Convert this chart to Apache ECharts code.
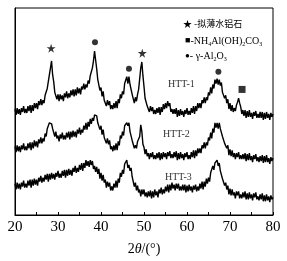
<!DOCTYPE html>
<html><head><meta charset="utf-8">
<script src="https://cdn.jsdelivr.net/npm/echarts@6/dist/echarts.min.js"></script>
<style>html,body{margin:0;padding:0;background:#fff}#c{width:287px;height:261px}</style>
</head><body><div id="c"></div>
<script>
// 2θ sampled every 0.25° from 20 to 80 (241 points per pattern)
var thetaStart = 20, thetaStep = 0.25;
var htt1 = [
108,102,109,103,108,102,109,105,111,104,108,104,111,106,112,104,
112,106,114,109,114,108,116,112,118,112,117,114,122,120,129,130,
143,150,157,143,136,125,127,118,123,116,123,118,122,116,124,120,
126,119,124,120,127,122,128,121,128,122,130,124,129,123,131,128,
134,128,133,130,137,134,142,141,150,157,167,158,149,138,137,127,
130,121,126,117,119,111,117,112,116,108,112,108,114,109,116,109,
118,114,123,119,126,123,134,134,141,134,141,133,133,123,122,114,
120,116,123,128,139,150,156,142,131,119,120,111,113,105,111,106,
110,103,107,103,109,104,110,102,110,105,113,108,114,109,116,111,
114,105,108,103,108,103,109,100,107,101,108,102,106,100,107,103,
109,102,106,102,109,104,111,103,111,106,114,109,114,109,117,114,
120,114,120,117,125,122,130,124,133,129,138,134,139,133,138,132,
135,125,126,119,122,114,118,108,114,106,112,105,109,106,112,115,
119,114,110,103,107,101,107,99,106,100,107,100,104,98,105,101,
106,99,103,99,105,99,105,97,104,98,105,99,103,97,104,100,
103];
var htt2 = [
70,64,71,65,70,64,71,67,73,66,70,66,73,68,74,66,
74,68,76,70,75,69,77,73,79,73,78,75,83,80,88,86,
94,94,93,88,88,80,85,78,81,75,82,78,84,77,81,77,
84,79,85,77,85,79,86,80,85,79,87,83,89,82,87,84,
91,87,94,87,95,90,98,93,99,96,102,100,101,94,96,87,
91,82,87,79,81,73,78,72,76,67,70,65,71,66,73,66,
75,71,81,78,85,81,91,89,94,91,94,85,86,76,77,68,
71,68,75,76,80,92,85,72,69,62,67,60,63,57,63,59,
64,57,61,57,63,58,64,56,63,57,64,59,63,57,64,60,
65,58,62,58,64,59,65,56,63,57,64,58,62,56,63,59,
64,57,61,57,64,59,66,58,66,60,68,63,68,63,71,68,
74,68,74,71,79,76,84,78,88,84,94,89,94,88,94,88,
90,80,80,73,75,68,71,61,67,60,66,59,63,57,63,59,
64,57,61,57,62,57,63,55,62,56,63,56,60,54,61,57,
62,55,59,54,60,55,61,53,60,54,61,54,58,52,59,55,
58];
var htt3 = [
32,26,33,27,32,26,33,29,35,28,32,28,35,30,36,28,
36,30,37,31,36,30,38,34,40,33,38,34,41,36,42,34,
42,36,43,37,42,36,43,39,45,38,42,38,45,40,46,38,
46,40,47,41,46,40,48,44,50,43,48,44,51,46,53,45,
53,48,56,50,55,49,56,51,55,47,50,44,49,42,47,37,
43,35,41,33,36,28,34,29,33,25,29,25,32,28,35,28,
37,33,43,39,46,42,52,50,56,48,51,45,48,39,41,29,
33,25,30,23,26,19,26,21,26,19,23,18,24,19,25,17,
24,18,26,20,24,18,26,22,28,21,26,22,29,24,31,23,
31,25,33,27,31,25,32,27,32,25,29,25,31,25,31,23,
30,24,31,25,29,23,30,26,31,24,29,25,32,27,34,26,
34,29,37,32,38,34,43,42,50,46,53,53,56,50,53,45,
47,37,38,30,33,26,30,21,27,20,26,20,23,17,24,20,
24,17,21,17,23,18,24,16,22,16,23,17,21,15,22,18,
23,16,19,15,21,16,22,14,20,14,21,15,19,13,20,16,
18];
// peak markers [2θ, height]
var starPeaks = [[28.4,170],[49.6,165]];
var circlePeaks = [[38.6,176],[46.5,149],[67.3,146]];
var squarePeaks = [[72.8,128]];
var xTicks = [20,30,40,50,60,70,80];

function toPairs(arr){ return arr.map(function(v,i){ return [thetaStart + thetaStep*i, v]; }); }

var chart = echarts.init(document.getElementById('c'));
var lineStyle = {color:'#000', width:1.4};
var serif = 'Liberation Serif, Times New Roman, serif';
chart.setOption({
  animation:false,
  grid:{left:15, right:14, top:8, bottom:42, show:true, borderColor:'#000', borderWidth:1},
  xAxis:{type:'value', min:20, max:80, interval:5,
    axisLine:{lineStyle:{color:'#000', width:1}},
    axisTick:{inside:true, length:3, lineStyle:{color:'#000'}},
    splitLine:{show:false},
    axisLabel:{color:'#000', fontFamily:serif, fontSize:15, margin:5,
      formatter:function(v){ return xTicks.indexOf(v)>=0 ? String(v) : ''; }},
    name:'{a|2}{b|θ}{a|/(°)}', nameLocation:'middle', nameGap:27,
    nameTextStyle:{rich:{a:{fontFamily:serif, fontSize:14, color:'#000'}, b:{fontFamily:serif, fontSize:14, fontStyle:'italic', color:'#000'}}}
  },
  yAxis:{type:'value', min:0, max:211, axisLine:{show:true, lineStyle:{color:'#000'}}, axisTick:{show:false}, axisLabel:{show:false}, splitLine:{show:false}},
  series:[
    {type:'line', data:toPairs(htt1), symbol:'none', lineStyle:lineStyle},
    {type:'line', data:toPairs(htt2), symbol:'none', lineStyle:lineStyle},
    {type:'line', data:toPairs(htt3), symbol:'none', lineStyle:lineStyle},
    {type:'scatter', data:starPeaks, symbol:'path://M50,0 L61.8,36.2 L100,36.2 L69.1,58.8 L80.9,95.1 L50,72.7 L19.1,95.1 L30.9,58.8 L0,36.2 L38.2,36.2 Z', symbolSize:9, itemStyle:{color:'#000'}},
    {type:'scatter', data:circlePeaks, symbol:'circle', symbolSize:6, itemStyle:{color:'#000'}},
    {type:'scatter', data:squarePeaks, symbol:'rect', symbolSize:7, itemStyle:{color:'#000'}}
  ],
  graphic:[
    {type:'text', left:183, top:19, style:{text:'★ -拟薄水铝石', font:'9px "Noto Sans CJK SC", serif', fill:'#000'}},
    {type:'text', left:185, top:36, style:{text:'{s|■}{t|-NH}{u|4}{t|Al(OH)}{u|2}{t|CO}{u|3}', rich:{s:{fontSize:9, fill:'#000'}, t:{fontFamily:serif, fontSize:10, fill:'#000'}, u:{fontFamily:serif, fontSize:6, fill:'#000', padding:[6,0,0,0]}}}},
    {type:'text', left:185, top:51, style:{text:'{s|●}{t|- γ-Al}{u|2}{t|O}{u|3}', rich:{s:{fontSize:8, fill:'#000'}, t:{fontFamily:serif, fontSize:10, fill:'#000'}, u:{fontFamily:serif, fontSize:6, fill:'#000', padding:[6,0,0,0]}}}},
    {type:'text', left:168, top:79, style:{text:'HTT-1', font:'10px "Liberation Serif", serif', fill:'#333'}},
    {type:'text', left:163, top:129, style:{text:'HTT-2', font:'10px "Liberation Serif", serif', fill:'#333'}},
    {type:'text', left:165, top:172, style:{text:'HTT-3', font:'10px "Liberation Serif", serif', fill:'#333'}}
  ]
});
</script></body></html>
